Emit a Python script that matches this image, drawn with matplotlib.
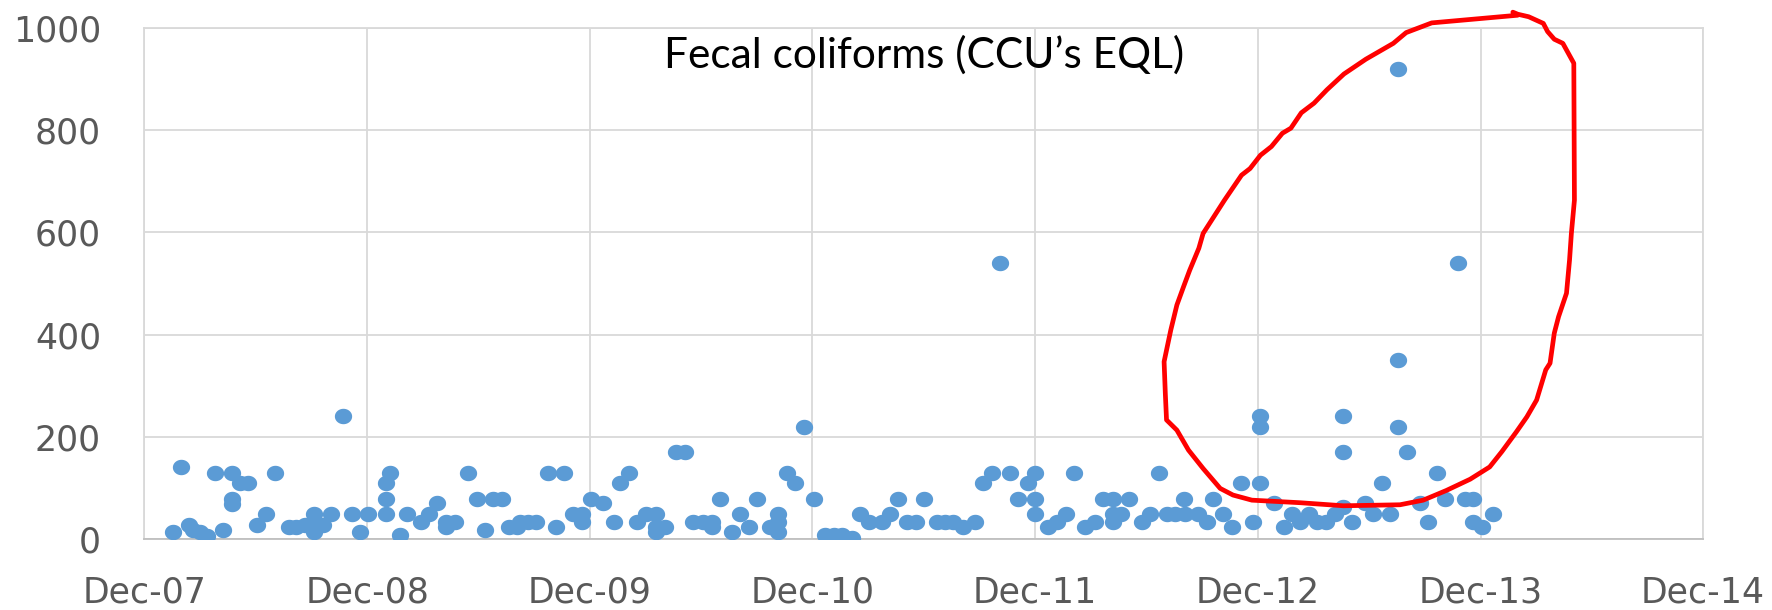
import datetime as dt
import numpy as np
import matplotlib
matplotlib.use("Agg")
import matplotlib.pyplot as plt
import matplotlib.dates as mdates
from matplotlib.path import Path

# sampling dates, as days after 1 Dec 2007
sample_day = [
    47, 60, 73, 81, 92, 103, 116, 130, 144, 144, 144, 157, 171, 186, 200, 214,
    237, 250, 264, 278, 278, 278, 293, 307, 327, 341, 354, 368, 397, 397, 397, 403,
    419, 432, 454, 468, 481, 495, 495, 510, 532, 546, 559, 573, 587, 598, 611, 616,
    629, 643, 663, 676, 689, 703, 719, 719, 733, 753, 770, 781, 796, 809, 824, 840,
    840, 840, 854, 873, 887, 901, 917, 931, 931, 945, 964, 977, 992, 1005, 1026, 1040,
    1040, 1040, 1055, 1068, 1082, 1099, 1117, 1132, 1144, 1147, 1161, 1175, 1189, 1210, 1223, 1237,
    1251, 1266, 1279, 1300, 1314, 1327, 1343, 1363, 1376, 1390, 1404, 1420, 1434, 1449, 1461, 1461,
    1461, 1483, 1497, 1512, 1525, 1543, 1560, 1573, 1589, 1589, 1589, 1602, 1616, 1636, 1650, 1665,
    1677, 1691, 1705, 1707, 1729, 1743, 1754, 1769, 1785, 1799, 1819, 1830, 1830, 1830, 1853, 1869,
    1882, 1896, 1910, 1923, 1939, 1953, 1966, 1966, 1966, 1981, 2002, 2016, 2030, 2043, 2057, 2057,
    2057, 2072, 2093, 2106, 2120, 2134, 2155, 2166, 2180, 2180, 2195, 2213,
]
# fecal coliforms (MPN/100 mL)
fecal_coliforms = [
    13, 140, 27, 17, 13, 5, 130, 17, 130, 79, 68, 110, 110, 27, 49, 130,
    23, 23, 27, 49, 33, 13, 27, 49, 240, 49, 13, 49, 49, 79, 110, 130,
    8, 49, 33, 49, 70, 33, 23, 33, 130, 79, 17, 79, 79, 23, 23, 33,
    33, 33, 130, 23, 130, 49, 49, 33, 79, 70, 33, 110, 130, 33, 49, 49,
    23, 13, 23, 170, 170, 33, 33, 33, 23, 79, 13, 49, 23, 79, 23, 49,
    33, 13, 130, 110, 220, 79, 8, 8, 8, 2, 2, 49, 33, 33, 49, 79,
    33, 33, 79, 33, 33, 33, 23, 33, 110, 130, 540, 130, 79, 110, 130, 79,
    49, 23, 33, 49, 130, 23, 33, 79, 79, 49, 33, 49, 79, 33, 49, 130,
    49, 49, 79, 49, 49, 33, 79, 49, 23, 110, 33, 240, 220, 110, 70, 23,
    49, 33, 49, 33, 33, 49, 240, 170, 63, 33, 70, 49, 110, 49, 920, 350,
    220, 170, 70, 33, 130, 79, 540, 79, 79, 33, 23, 49,
]

# hand-drawn red loop (days after 1 Dec 2007, value)
loop_day = [
    2253, 2112, 2070, 2049, 2004, 1968, 1940, 1919, 1898, 1881, 1867, 1849, 1831, 1814, 1800,
    1772, 1751, 1737, 1730, 1715, 1705, 1694, 1684, 1673, 1675, 1677, 1694, 1713, 1737, 1765,
    1786, 1817, 1896, 1967, 2060, 2098, 2136, 2175, 2207, 2227, 2251, 2268, 2284, 2299, 2306,
    2313, 2320, 2333, 2338, 2341, 2346, 2345, 2333, 2327, 2313, 2302, 2295, 2271, 2253, 2245,
]
loop_value = [
    1025, 1010, 991, 970, 939, 910, 879, 853, 834, 804, 794, 768, 751, 725, 712,
    663, 624, 598, 569, 526, 494, 458, 409, 347, 285, 233, 213, 174, 138, 99,
    86, 76, 71, 65, 67, 76, 95, 117, 141, 171, 210, 239, 272, 331, 344,
    403, 435, 481, 546, 598, 663, 931, 957, 970, 978, 993, 1009, 1022, 1027, 1031,
]

start = dt.datetime(2007, 12, 1)
dates = [start + dt.timedelta(days=d) for d in sample_day]
loop_dates = [start + dt.timedelta(days=d) for d in loop_day]
year_ticks = [dt.datetime(y, 12, 1) for y in range(2007, 2015)]

# slightly wide elliptical marker like the original
t = np.linspace(0, 2 * np.pi, 40)
ellipse = Path(np.column_stack([1.12 * np.cos(t), np.sin(t)]))

fig = plt.figure(figsize=(17.72, 6.10), dpi=100)
ax = fig.add_axes([0.0813, 0.1164, 0.8798, 0.8377])

ax.scatter(dates, fecal_coliforms, s=155, marker=ellipse, color="#5B9BD5",
           linewidths=0, zorder=3)
ax.plot(loop_dates, loop_value, color="#FF0000", lw=3.4, zorder=4,
        clip_on=False, solid_capstyle="round", solid_joinstyle="round")

ax.set_xlim(year_ticks[0], year_ticks[-1])
ax.set_ylim(0, 1000)
ax.set_xticks(year_ticks)
ax.xaxis.set_major_formatter(mdates.DateFormatter("%b-%y"))
ax.set_yticks(range(0, 1001, 200))

ax.grid(True, color="#D9D9D9", lw=1.3, zorder=0)
ax.set_axisbelow(True)
for side in ["top", "right", "left"]:
    ax.spines[side].set_color("#D9D9D9")
    ax.spines[side].set_linewidth(1.3)
ax.spines["bottom"].set_color("#BFBFBF")
ax.spines["bottom"].set_linewidth(1.3)

ax.tick_params(axis="both", length=0, labelsize=25, labelcolor="#595959")
ax.tick_params(axis="x", pad=26)
ax.tick_params(axis="y", pad=31)

ax.text(0.5, 0.947, "Fecal coliforms (CCU\u2019s EQL)", transform=ax.transAxes,
        ha="center", va="center", fontsize=30.5, family="Lato", color="black",
        zorder=5)

fig.savefig("out.png", dpi=100)
